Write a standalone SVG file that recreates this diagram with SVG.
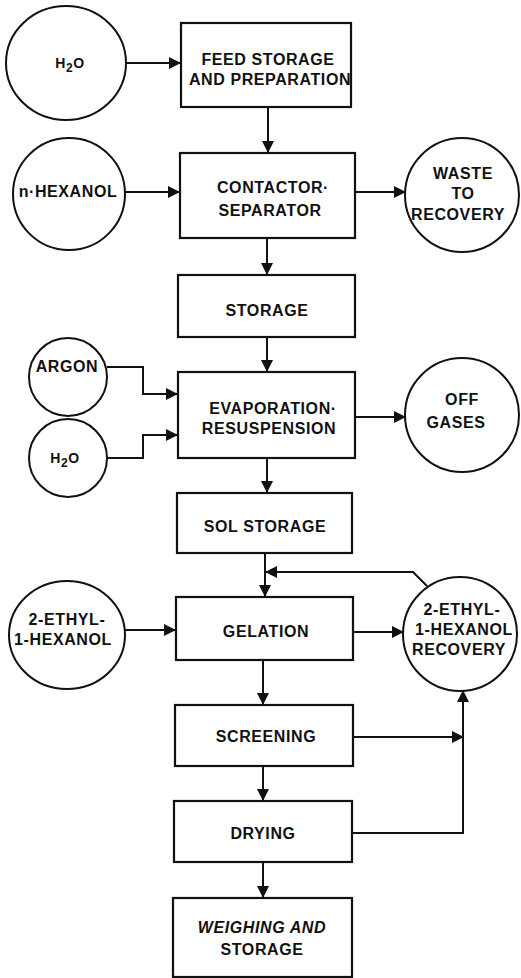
<svg xmlns="http://www.w3.org/2000/svg" width="521" height="978" viewBox="0 0 521 978">
  <style>
    .box { fill: #ffffff; stroke: #111111; stroke-width: 2.2; }
    .circ { fill: #ffffff; stroke: #111111; stroke-width: 2; }
    .lbl { font-family: "Liberation Sans", Arial, sans-serif; font-weight: bold; font-size: 16px; fill: #111111; text-anchor: middle; letter-spacing: 0.6px; }
    .small { font-size: 14px; }
    .flow { fill: none; stroke: #111111; stroke-width: 2; }
  </style>
  <defs>
    <marker id="arrow" viewBox="0 0 12 12" refX="11" refY="6" markerWidth="12" markerHeight="12" markerUnits="userSpaceOnUse" orient="auto">
      <path d="M0,0 L12,6 L0,12 z" fill="#111111"/>
    </marker>
  </defs>
  <rect width="521" height="978" fill="#ffffff"/>

  <!-- process boxes -->
  <g id="feed-storage">
    <rect class="box" x="181" y="23" width="170" height="84"/>
    <text class="lbl" x="268" y="65">FEED STORAGE</text>
    <text class="lbl" x="270" y="85">AND PREPARATION</text>
  </g>
  <g id="contactor-separator">
    <rect class="box" x="180" y="153" width="175" height="85"/>
    <text class="lbl" x="273" y="193">CONTACTOR·</text>
    <text class="lbl" x="270" y="216">SEPARATOR</text>
  </g>
  <g id="storage">
    <rect class="box" x="178" y="275" width="177" height="62"/>
    <text class="lbl" x="267" y="316">STORAGE</text>
  </g>
  <g id="evaporation">
    <rect class="box" x="178" y="372" width="177" height="86"/>
    <text class="lbl" x="273" y="414">EVAPORATION·</text>
    <text class="lbl" x="269" y="434">RESUSPENSION</text>
  </g>
  <g id="sol-storage">
    <rect class="box" x="177" y="493" width="175" height="60"/>
    <text class="lbl" x="265" y="532">SOL STORAGE</text>
  </g>
  <g id="gelation">
    <rect class="box" x="176" y="597" width="177" height="63"/>
    <text class="lbl" x="266" y="637">GELATION</text>
  </g>
  <g id="screening">
    <rect class="box" x="175" y="705" width="178" height="61"/>
    <text class="lbl" x="266" y="742">SCREENING</text>
  </g>
  <g id="drying">
    <rect class="box" x="174" y="801" width="178" height="61"/>
    <text class="lbl" x="263" y="839">DRYING</text>
  </g>
  <g id="weighing-storage">
    <rect class="box" x="173" y="898" width="179" height="79"/>
    <text class="lbl" x="262" y="933" font-style="italic">WEIGHING AND</text>
    <text class="lbl" x="262" y="955">STORAGE</text>
  </g>

  <!-- feed and product streams -->
  <g id="water-feed">
    <ellipse class="circ" cx="66" cy="63" rx="60" ry="57"/>
    <text class="lbl small" x="70" y="68">H<tspan dy="4" font-size="12px">2</tspan><tspan dy="-4">O</tspan></text>
  </g>
  <g id="n-hexanol">
    <circle class="circ" cx="69" cy="194" r="56"/>
    <text class="lbl" x="68" y="197">n·HEXANOL</text>
  </g>
  <g id="waste-recovery">
    <circle class="circ" cx="462" cy="195" r="57"/>
    <text class="lbl" x="463" y="179">WASTE</text>
    <text class="lbl" x="463" y="199">TO</text>
    <text class="lbl" x="458" y="220">RECOVERY</text>
  </g>
  <g id="argon">
    <circle class="circ" cx="68" cy="377" r="39"/>
    <text class="lbl" x="67" y="372">ARGON</text>
  </g>
  <g id="water-resuspension">
    <circle class="circ" cx="68" cy="458" r="39"/>
    <text class="lbl small" x="65" y="463">H<tspan dy="4" font-size="12px">2</tspan><tspan dy="-4">O</tspan></text>
  </g>
  <g id="off-gases">
    <circle class="circ" cx="462" cy="415" r="57"/>
    <text class="lbl" x="462" y="405">OFF</text>
    <text class="lbl" x="456" y="428">GASES</text>
  </g>
  <g id="ethylhexanol-feed">
    <ellipse class="circ" cx="67" cy="635" rx="58" ry="54"/>
    <text class="lbl" x="67" y="625">2-ETHYL-</text>
    <text class="lbl" x="63" y="645">1-HEXANOL</text>
  </g>
  <g id="ethylhexanol-recovery">
    <circle class="circ" cx="460" cy="634" r="57"/>
    <text class="lbl" x="462" y="615">2-ETHYL-</text>
    <text class="lbl" x="464" y="635">1-HEXANOL</text>
    <text class="lbl" x="459" y="655">RECOVERY</text>
  </g>

  <!-- connectors -->
  <g id="connectors">
    <path class="flow" d="M126,63 H180" marker-end="url(#arrow)"/>
    <path class="flow" d="M268,107 V152" marker-end="url(#arrow)"/>
    <path class="flow" d="M125,192 H179" marker-end="url(#arrow)"/>
    <path class="flow" d="M355,192 H405" marker-end="url(#arrow)"/>
    <path class="flow" d="M267,238 V274" marker-end="url(#arrow)"/>
    <path class="flow" d="M267,337 V371" marker-end="url(#arrow)"/>
    <path class="flow" d="M107,367 H143 V394 H177" marker-end="url(#arrow)"/>
    <path class="flow" d="M107,458 H143 V435 H177" marker-end="url(#arrow)"/>
    <path class="flow" d="M355,417 H405" marker-end="url(#arrow)"/>
    <path class="flow" d="M267,458 V492" marker-end="url(#arrow)"/>
    <path class="flow" d="M265,553 V596" marker-end="url(#arrow)"/>
    <path class="flow" d="M427,586 L413,572 H266" marker-end="url(#arrow)"/>
    <path class="flow" d="M125,630 H175" marker-end="url(#arrow)"/>
    <path class="flow" d="M353,632 H403" marker-end="url(#arrow)"/>
    <path class="flow" d="M263,660 V704" marker-end="url(#arrow)"/>
    <path class="flow" d="M353,737 H463" marker-end="url(#arrow)"/>
    <path class="flow" d="M263,766 V800" marker-end="url(#arrow)"/>
    <path class="flow" d="M352,833 H463 V691" marker-end="url(#arrow)"/>
    <path class="flow" d="M263,862 V897" marker-end="url(#arrow)"/>
  </g>
</svg>
